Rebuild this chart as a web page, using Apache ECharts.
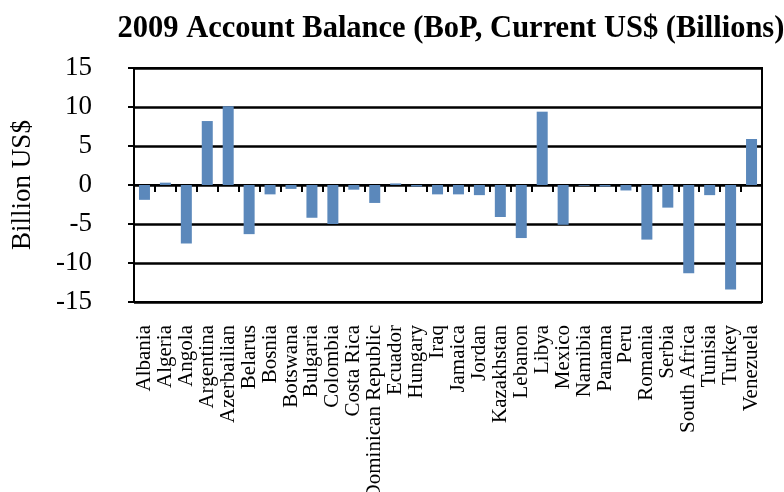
<!DOCTYPE html>
<html>
<head>
<meta charset="utf-8">
<script src="https://cdn.jsdelivr.net/npm/echarts@6/dist/echarts.min.js"></script>
<style>
  html, body { margin: 0; padding: 0; background: #fff; }
  #chart { width: 784px; height: 492px; }
</style>
</head>
<body>
<div id="chart"></div>
<script>
// 2009 current account balance by country, billions of US$
const countries = [
  'Albania', 'Algeria', 'Angola', 'Argentina', 'Azerbailian', 'Belarus', 'Bosnia',
  'Botswana', 'Bulgaria', 'Colombia', 'Costa Rica', 'Dominican Republic', 'Ecuador',
  'Hungary', 'Iraq', 'Jamaica', 'Jordan', 'Kazakhstan', 'Lebanon', 'Libya', 'Mexico',
  'Namibia', 'Panama', 'Peru', 'Romania', 'Serbia', 'South Africa', 'Tunisia',
  'Turkey', 'Venezuela'
];
const balance = [
  -1.9, 0.3, -7.5, 8.2, 10.1, -6.3, -1.2,
  -0.5, -4.2, -5.0, -0.6, -2.3, 0.2,
  -0.2, -1.2, -1.2, -1.3, -4.1, -6.8, 9.4, -5.1,
  -0.1, -0.2, -0.7, -7.0, -2.9, -11.3, -1.3,
  -13.4, 5.9
];
const yTicks = { min: -15, max: 15, interval: 5 };

const serif = '"Liberation Serif", "DejaVu Serif", serif';
const chart = echarts.init(document.getElementById('chart'), null, { renderer: 'canvas' });

chart.setOption({
  animation: false,
  backgroundColor: '#ffffff',
  title: {
    text: '2009 Account Balance (BoP, Current US$ (Billions)',
    left: 446,
    textAlign: 'center',
    top: 9,
    textStyle: { fontFamily: serif, fontWeight: 'bold', fontSize: 30.5, color: '#000' }
  },
  grid: {
    left: 134, right: 22, top: 68, bottom: 190,
    containLabel: false,
    outerBoundsMode: 'none',
    show: true, borderColor: '#000', borderWidth: 2, backgroundColor: 'transparent'
  },
  xAxis: {
    type: 'category',
    data: countries,
    boundaryGap: true,
    axisLine: { show: true, lineStyle: { color: '#000', width: 2 } },
    axisTick: { show: true, length: 7, alignWithLabel: false, lineStyle: { color: '#000', width: 2 } },
    axisLabel: {
      rotate: 90, interval: 0, margin: 23, color: '#000',
      fontFamily: serif, fontSize: 21, hideOverlap: false
    },
    splitLine: { show: false }
  },
  yAxis: {
    type: 'value',
    min: yTicks.min, max: yTicks.max, interval: yTicks.interval,
    name: 'Billion US$',
    nameLocation: 'middle',
    nameGap: 98,
    nameRotate: 90,
    nameTextStyle: { fontFamily: serif, fontSize: 27, color: '#000' },
    axisLine: { show: true, lineStyle: { color: '#000', width: 2 } },
    axisTick: { show: true, length: 6, inside: false, lineStyle: { color: '#000', width: 2 } },
    axisLabel: { margin: 42, color: '#000', fontFamily: serif, fontSize: 27 },
    splitLine: { show: true, lineStyle: { color: '#000', width: 2.5 } }
  },
  series: [{
    type: 'bar',
    data: balance,
    barWidth: 11,
    itemStyle: { color: '#5b88bb' }
  }]
});
</script>
</body>
</html>
